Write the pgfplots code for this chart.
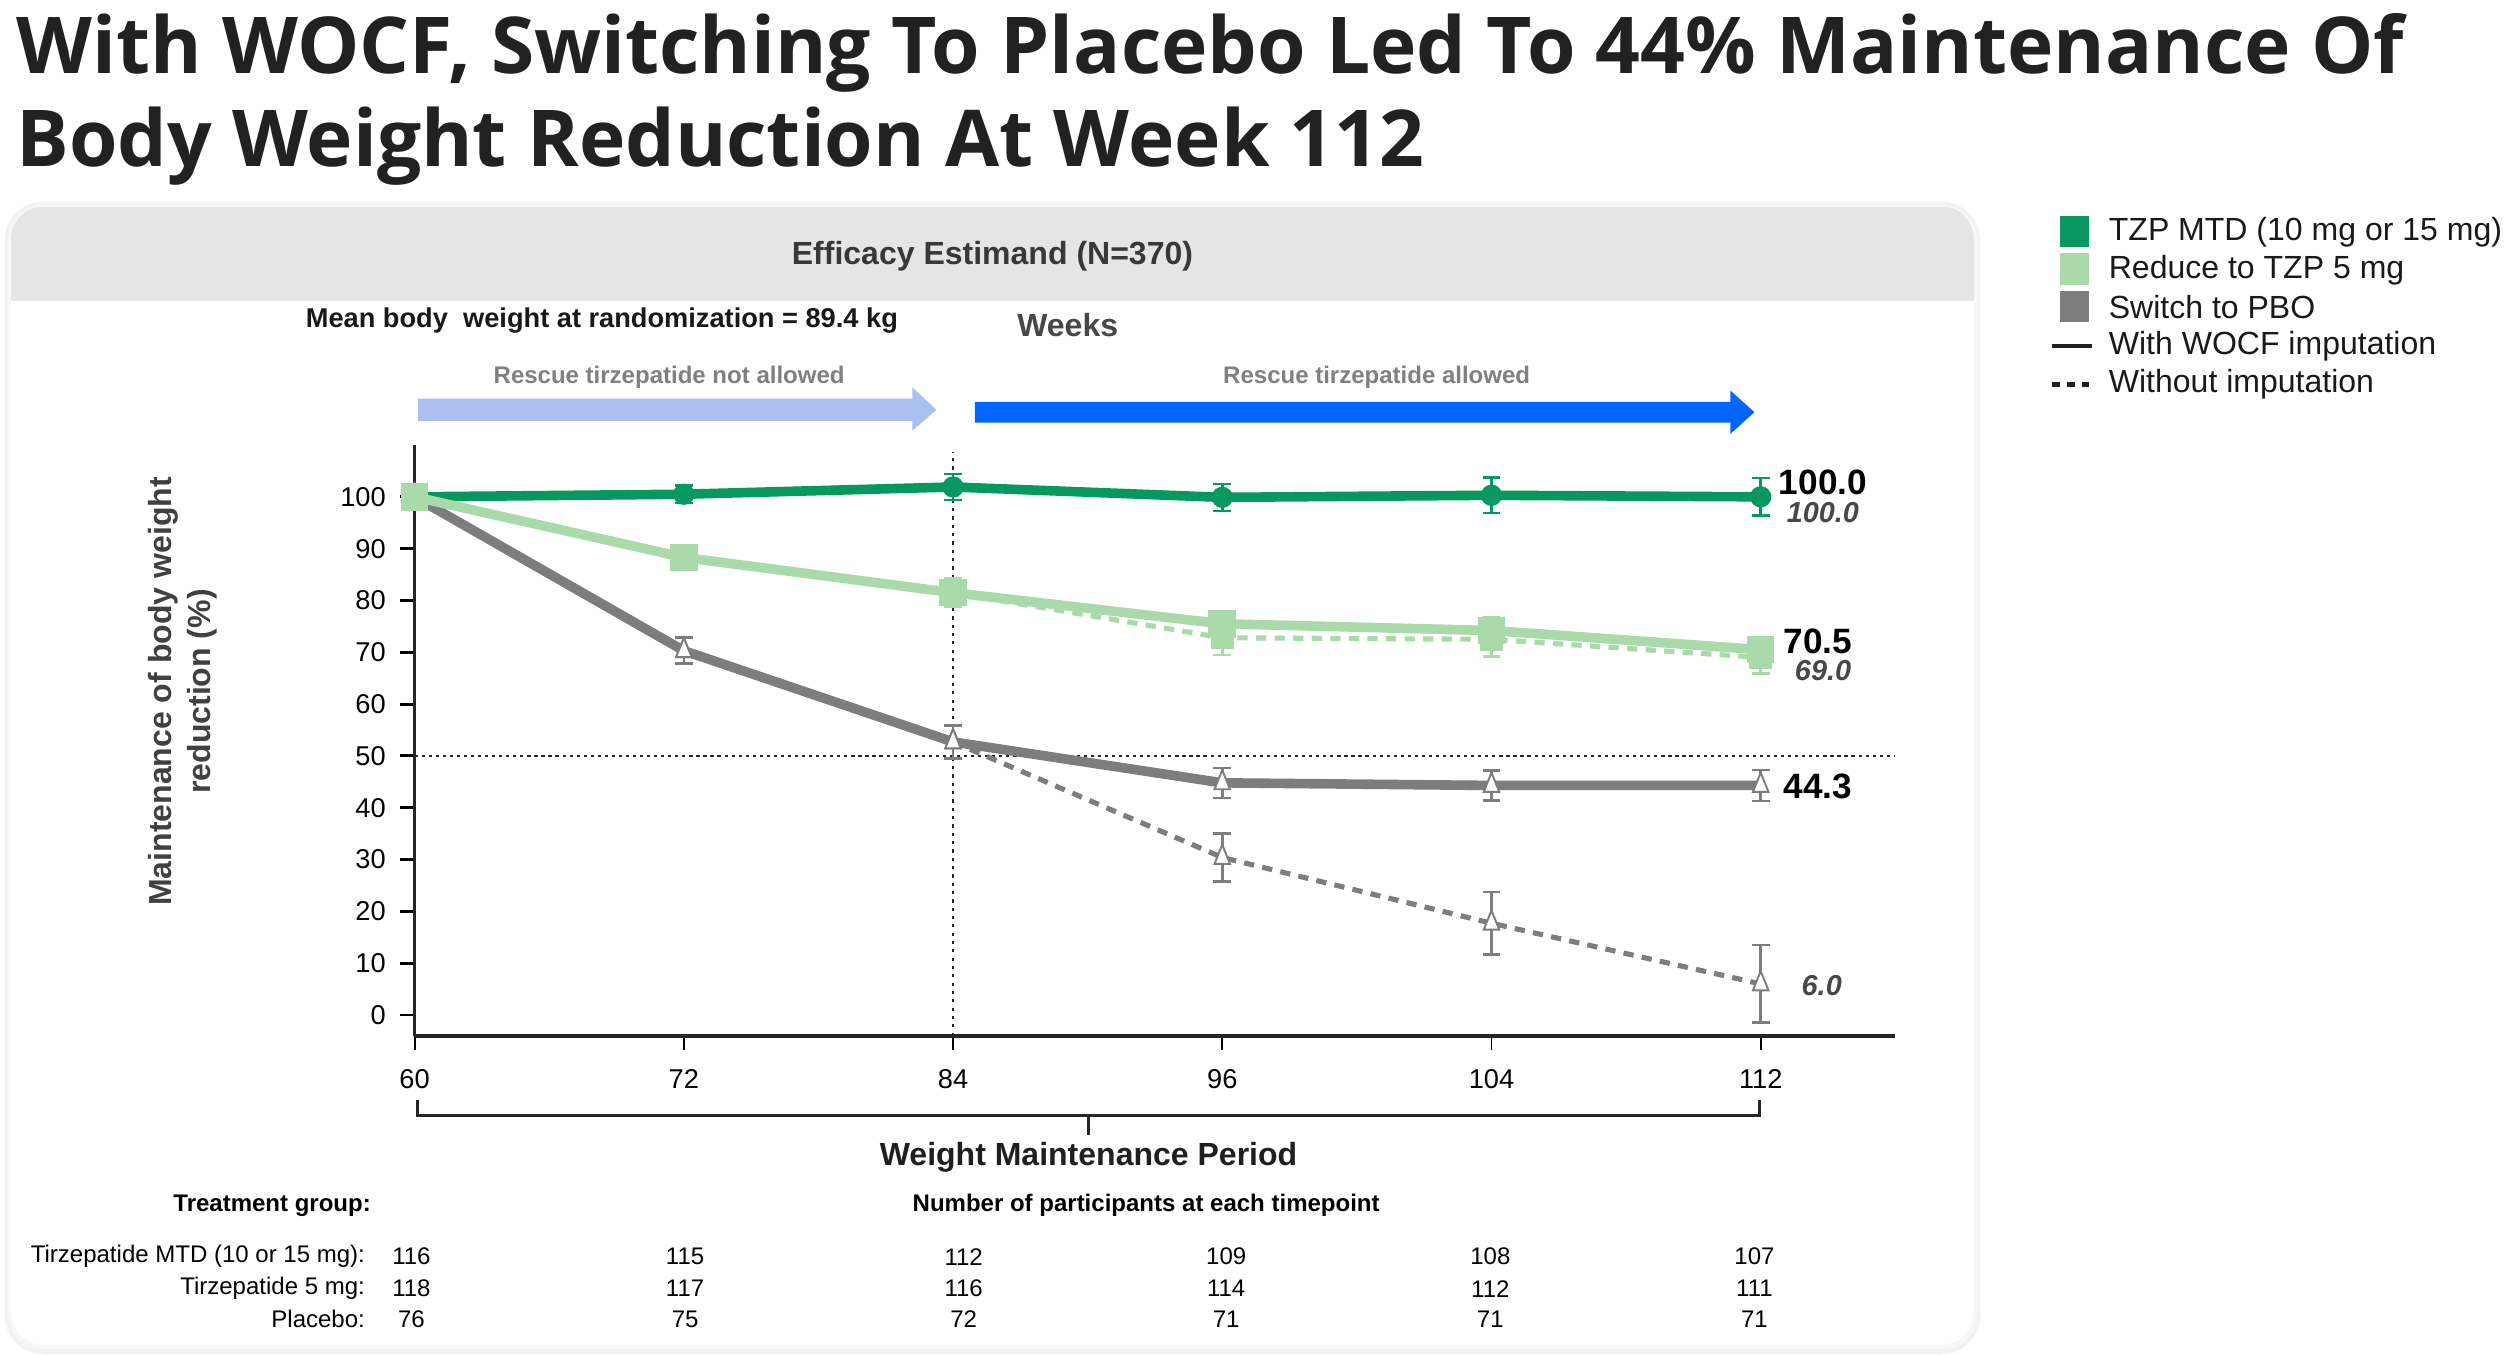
\documentclass[border=0pt]{standalone}
\usepackage{fontspec}
\setmainfont{Liberation Sans}
\newfontfamily\titlefont{Open Sans}
\usepackage{pgfplots}
\pgfplotsset{compat=1.18}
\usepackage{pgfplotstable}

\definecolor{dg}{RGB}{7,152,98}
\definecolor{lg}{RGB}{170,218,170}
\definecolor{gr}{RGB}{125,125,125}
\definecolor{bl}{RGB}{0,102,255}
\definecolor{lb}{RGB}{169,192,240}
\definecolor{txt}{RGB}{40,40,40}

% x: 0=wk60, 1=wk72, 2=wk84, 3=wk96, 4=wk104, 5=wk112
\pgfplotstableread{
x y e
0 100.0 0
1 100.5 1.7
2 101.9 2.5
3 99.9 2.6
4 100.3 3.4
5 100.0 3.6
}\mtdsolid
\pgfplotstableread{
x y e
0 100.0 0
1 100.5 1.7
2 101.9 2.5
3 99.9 2.6
4 100.3 3.4
5 100.0 3.6
}\mtddash
\pgfplotstableread{
x y e
0 100.0 0
1 88.3 2.1
2 81.5 2.7
3 75.5 2.5
4 74.2 2.5
5 70.5 2.3
}\fivesolid
\pgfplotstableread{
x y e
0 100.0 0
1 88.3 2.1
2 81.5 2.7
3 72.8 3.3
4 72.5 3.3
5 69.0 3.1
}\fivedash
\pgfplotstableread{
x y e
0 100.0 0
1 70.3 2.5
2 52.7 3.2
3 44.8 2.9
4 44.3 2.9
5 44.3 3.0
}\pbosolid
\pgfplotstableread{
x y e
0 100.0 0
1 70.3 2.5
2 52.7 3.2
3 30.4 4.6
4 17.7 6.0
5 6.0 7.5
}\pbodash

\begin{document}
\begin{tikzpicture}
\begin{scope}[x=0.5pt,y=-0.5pt]
\useasboundingbox (0,0) rectangle (1568,846);
% title
\node[anchor=base west, inner sep=0, text=black!87, font=\titlefont\bfseries\fontsize{24.5}{28}\selectfont] at (10,46) {With WOCF, Switching To Placebo Led To 44\% Maintenance Of};
\node[anchor=base west, inner sep=0, text=black!87, font=\titlefont\bfseries\fontsize{24.5}{28}\selectfont] at (10,104) {Body Weight Reduction At Week 112};
% panel
\fill[black!5, rounded corners=12pt] (3,126) rectangle (1237,846);
\fill[black!3, rounded corners=11pt] (5,128) rectangle (1235,843);
\fill[white, rounded corners=10pt] (7,129) rectangle (1233,840);
\begin{scope}
\clip[rounded corners=10pt] (7,129) rectangle (1233,840);
\fill[black!10] (7,129) rectangle (1233,188);
\end{scope}
\node[font=\bfseries\fontsize{10}{12}\selectfont, text=black!78] at (620,160) {Efficacy Estimand (N=370)};
\node[font=\bfseries\fontsize{8.5}{10}\selectfont, text=black!90] at (376,200) {Mean body\ \ weight at randomization = 89.4 kg};
\node[font=\bfseries\fontsize{10}{12}\selectfont, text=black!72] at (667,203) {Weeks};
\node[font=\bfseries\fontsize{7.5}{9}\selectfont, text=black!50] at (418,236) {Rescue tirzepatide not allowed};
\node[font=\bfseries\fontsize{7.5}{9}\selectfont, text=black!50] at (860,236) {Rescue tirzepatide allowed};
% arrows
\fill[lb] (261,249) -- (570,249) -- (570,242) -- (585,256) -- (570,269) -- (570,263) -- (261,263) -- cycle;
\fill[bl] (609,251) -- (1081,251) -- (1081,244) -- (1096,257.5) -- (1081,271) -- (1081,264) -- (609,264) -- cycle;
% y label
\node[rotate=90, align=center, font=\bfseries\fontsize{10}{12.2}\selectfont, text=black!75] at (114,432) {Maintenance of body weight\\reduction (\%)};
% bracket
\draw[line width=0.9pt, black!85] (261,687) -- (261,697) -- (1099,697) -- (1099,687);
\draw[line width=0.9pt, black!85] (680,697) -- (680,709);
\node[font=\bfseries\fontsize{10}{12}\selectfont, text=black!88] at (680,723) {Weight Maintenance Period};
% participants table
\node[font=\bfseries\fontsize{7.5}{9}\selectfont] at (170,753) {Treatment group:};
\node[font=\bfseries\fontsize{7.5}{9}\selectfont] at (716,753) {Number of participants at each timepoint};
\node[anchor=east, font=\fontsize{7.5}{9}\selectfont] at (235,785) {Tirzepatide MTD (10 or 15 mg):};
\node[anchor=east, font=\fontsize{7.5}{9}\selectfont] at (235,805) {Tirzepatide 5 mg:};
\node[anchor=east, font=\fontsize{7.5}{9}\selectfont] at (235,824) {Placebo:};
\foreach \xx/\a/\b/\c in {257/116/118/76, 428/115/117/75, 602/112/116/72, 766/109/114/71, 931/108/112/71, 1096/107/111/71}{
  \node[font=\fontsize{7.5}{9}\selectfont] at (\xx,785) {\a};
  \node[font=\fontsize{7.5}{9}\selectfont] at (\xx,805) {\b};
  \node[font=\fontsize{7.5}{9}\selectfont] at (\xx,824) {\c};
}
% legend
\fill[dg] (1287,135) rectangle (1305,154);
\fill[lg] (1287,158) rectangle (1305,178);
\fill[gr] (1287,182) rectangle (1305,201);
\draw[line width=1.3pt, black!88] (1282,216) -- (1307,216);
\draw[line width=1.5pt, black!88, dash pattern=on 2.4pt off 2.2pt] (1282,240) -- (1307,240);
\foreach \yy/\t in {145/TZP MTD (10 mg or 15 mg), 169/Reduce to TZP 5 mg, 192/Switch to PBO, 216/With WOCF imputation, 240/Without imputation}{
  \node[anchor=west, inner sep=0, font=\fontsize{10}{12}\selectfont, text=black!90] at (1317,\yy) {\t};
}
\end{scope}

\begin{axis}[
  at={(129.5pt,-323.5pt)}, anchor=south west,
  scale only axis, width=462.5pt, height=184.5pt,
  xmin=0, xmax=5.5, ymin=-4, ymax=110,
  axis lines*=left, clip=false,
  xtick={0,1,2,3,4,5}, xticklabels={60,72,84,96,104,112},
  ytick={0,10,...,100},
  tick align=outside, major tick length=4.5pt,
  x axis line style={line width=1.2pt, black!85},
  y axis line style={line width=0.9pt, black!85},
  xtick style={line width=0.6pt, black},
  ytick style={line width=0.9pt, black},
  tick label style={font=\fontsize{8.5}{10}\selectfont},
  /pgf/number format/assume math mode=true,
  xticklabel style={yshift=-2.5pt},
  yticklabel style={xshift=-1pt},
  error bars/error bar style={solid, line width=0.8pt},
]
% reference lines
\draw[black!85, line width=0.5pt, dash pattern=on 1pt off 1.2pt] (axis cs:0,50) -- (axis cs:5.5,50);
\draw[black!85, line width=0.5pt, dash pattern=on 1pt off 1.6pt] (axis cs:2,-4) -- (axis cs:2,108.7);
% placebo
\addplot[gr, line width=1.6pt, dash pattern=on 3.2pt off 2.6pt, mark=triangle*, mark size=4pt,
  mark options={solid, fill=white, draw=gr, line width=0.6pt, xscale=0.7},
  error bars/.cd, y dir=both, y explicit,
  error mark options={rotate=90, mark size=2.8pt, line width=0.8pt, gr}]
  table[x=x, y=y, y error=e] {\pbodash};
\addplot[gr, line width=3pt, mark=triangle*, mark size=4pt,
  mark options={solid, fill=white, draw=gr, line width=0.6pt, xscale=0.7},
  error bars/.cd, y dir=both, y explicit,
  error mark options={rotate=90, mark size=2.8pt, line width=0.8pt, gr}]
  table[x=x, y=y, y error=e] {\pbosolid};
% MTD
\addplot[dg, line width=1.6pt, dash pattern=on 3.2pt off 2.6pt, mark=*, mark size=1.8pt,
  mark options={solid, fill=dg, draw=dg},
  error bars/.cd, y dir=both, y explicit,
  error mark options={rotate=90, mark size=2.8pt, line width=0.8pt, dg}]
  table[x=x, y=y, y error=e] {\mtddash};
\addplot[dg, line width=3pt, mark=*, mark size=1.8pt,
  mark options={solid, fill=dg, draw=dg},
  error bars/.cd, y dir=both, y explicit,
  error mark options={rotate=90, mark size=2.8pt, line width=0.8pt, dg}]
  table[x=x, y=y, y error=e] {\mtdsolid};
% 5 mg
\addplot[lg, line width=1.6pt, dash pattern=on 3.2pt off 2.6pt, mark=square*, mark size=2.8pt,
  mark options={solid, fill=lg, draw=lg},
  error bars/.cd, y dir=both, y explicit,
  error mark options={rotate=90, mark size=2.8pt, line width=0.8pt, lg}]
  table[x=x, y=y, y error=e] {\fivedash};
\addplot[lg, line width=3pt, mark=square*, mark size=2.8pt,
  mark options={solid, fill=lg, draw=lg},
  error bars/.cd, y dir=both, y explicit,
  error mark options={rotate=90, mark size=2.8pt, line width=0.8pt, lg}]
  table[x=x, y=y, y error=e] {\fivesolid};
% end labels
\node[anchor=west, inner sep=0, font=\bfseries\fontsize{11}{12}\selectfont] at (axis cs:5.065,102.8) {100.0};
\node[anchor=west, inner sep=0, font=\bfseries\itshape\fontsize{9}{10}\selectfont, text=black!72] at (axis cs:5.095,96.9) {100.0};
\node[anchor=west, inner sep=0, font=\bfseries\fontsize{11}{12}\selectfont] at (axis cs:5.083,72.2) {70.5};
\node[anchor=west, inner sep=0, font=\bfseries\itshape\fontsize{9}{10}\selectfont, text=black!72] at (axis cs:5.125,66.4) {69.0};
\node[anchor=west, inner sep=0, font=\bfseries\fontsize{11}{12}\selectfont] at (axis cs:5.083,44.1) {44.3};
\node[anchor=west, inner sep=0, font=\bfseries\itshape\fontsize{9}{10}\selectfont, text=black!72] at (axis cs:5.15,5.6) {6.0};
\end{axis}
\end{tikzpicture}
\end{document}
